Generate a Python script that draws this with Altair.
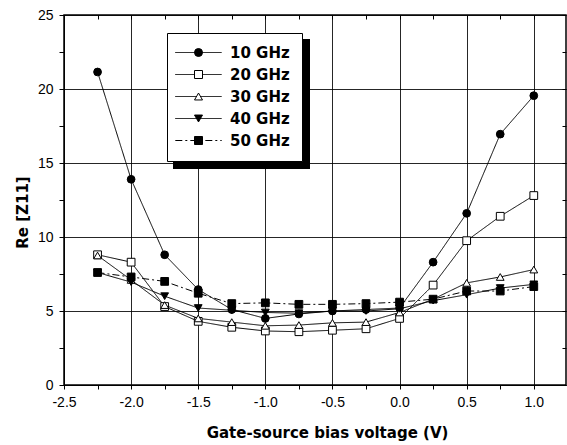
import altair as alt
import pandas as pd

voltages = [-2.25, -2.0, -1.75, -1.5, -1.25, -1.0, -0.75, -0.5, -0.25, 0.0, 0.25, 0.5, 0.75, 1.0]
series_names = ["10 GHz", "20 GHz", "30 GHz", "40 GHz", "50 GHz"]
re_10 = [21.15, 13.9, 8.8, 6.45, 5.1, 4.5, 4.8, 5.0, 5.1, 5.2, 8.3, 11.6, 16.95, 19.55]
re_20 = [8.8, 8.3, 5.3, 4.3, 3.9, 3.65, 3.6, 3.7, 3.8, 4.5, 6.75, 9.75, 11.4, 12.8]
re_30 = [8.75, 7.1, 5.4, 4.5, 4.25, 4.0, 4.05, 4.2, 4.25, 4.9, 5.8, 6.9, 7.3, 7.8]
re_40 = [7.6, 6.95, 6.0, 5.2, 5.05, 4.9, 4.85, 5.0, 5.0, 5.15, 5.7, 6.1, 6.55, 6.8]
re_50 = [7.6, 7.3, 7.0, 6.2, 5.5, 5.55, 5.45, 5.45, 5.5, 5.6, 5.8, 6.35, 6.35, 6.65]
x_ticks = [-2.5, -2.25, -2.0, -1.75, -1.5, -1.25, -1.0, -0.75, -0.5, -0.25, 0.0, 0.25, 0.5, 0.75, 1.0]
y_ticks = [0, 2.5, 5, 7.5, 10, 12.5, 15, 17.5, 20, 22.5, 25]

shapes = ["circle", "square", "triangle-up", "triangle-down", "square"]
fills = ["black", "white", "white", "black", "black"]
dashes = [[1, 0], [1, 0], [1, 0], [1, 0], [7, 3, 2, 3]]
line_keys = [n + "\u200b" for n in series_names]  # separate key so the line legend is not merged

rows = []
for name, key, vals in zip(series_names, line_keys, [re_10, re_20, re_30, re_40, re_50]):
    for v, r in zip(voltages, vals):
        rows.append({"V": v, "Re": r, "series": name, "series_line": key})
df = pd.DataFrame(rows)

FONT = "Liberation Sans"
BOLD = "DejaVu Sans"
xscale = alt.Scale(domain=[-2.5, 1.24], nice=False, zero=False)
yscale = alt.Scale(domain=[0, 25], nice=False)

major_x = "abs(datum.value % 0.5) < 0.001"
major_y = "abs(datum.value % 5) < 0.001"

x_axis = alt.Axis(
    values=x_ticks,
    labelExpr="abs(datum.value % 0.5) < 0.001 ? replace(format(datum.value, '.1f'), '\u2212', '-') : ''",
    labelFlush=False,
    grid=True,
    gridColor="black",
    gridWidth=1,
    gridOpacity={"condition": {"test": major_x, "value": 0.85}, "value": 0},
    tickSize=4,
    tickColor="black",
    domainColor="black",
    labelFont=FONT,
    labelFontSize=14,
    labelColor="black",
    labelPadding=6,
    title="Gate-source bias voltage (V)",
    titleFont=BOLD,
    titleFontSize=15,
    titleFontWeight="bold",
    titleColor="black",
    titleX=263,
    titleY=40,
    titleBaseline="top",
)
y_axis = alt.Axis(
    values=y_ticks,
    labelExpr="abs(datum.value % 5) < 0.001 ? format(datum.value, 'd') : ''",
    labelFlush=False,
    grid=True,
    gridColor="black",
    gridWidth=1,
    gridOpacity={"condition": {"test": major_y, "value": 0.85}, "value": 0},
    tickSize=5,
    tickColor="black",
    domainColor="black",
    labelFont=FONT,
    labelFontSize=14,
    labelColor="black",
    labelPadding=6,
    title="Re [Z11]",
    titleFont=BOLD,
    titleFontSize=15,
    titleFontWeight="bold",
    titleColor="black",
    titleX=-34,
    titleY=197,
)

common_legend = dict(
    title=None,
    orient="none",
    legendX=103,
    legendY=18,
    padding=12,
    rowPadding=6,
    symbolSize=64,
    symbolOffset=12,
    labelOffset=24,
    labelFont=BOLD,
    labelFontSize=15,
    labelFontWeight="bold",
    labelColor="black",
)
legend_shapes = alt.Legend(zindex=2, symbolStrokeWidth=1, **common_legend)
legend_lines = alt.Legend(
    zindex=1,
    fillColor="white",
    strokeColor="black",
    symbolType="M-5.8,0H5.8",
    symbolStrokeColor="black",
    symbolStrokeWidth=1,
    labelOpacity=0,
    **common_legend,
)

base = alt.Chart(df)

lines = base.mark_line(color="black", strokeWidth=1).encode(
    x=alt.X("V:Q", scale=xscale, axis=x_axis),
    y=alt.Y("Re:Q", scale=yscale, axis=y_axis),
    detail="series:N",
    strokeDash=alt.StrokeDash(
        "series_line:N",
        scale=alt.Scale(domain=line_keys, range=dashes),
        legend=legend_lines,
    ),
)

points = base.mark_point(size=60, strokeWidth=1, opacity=1).encode(
    x=alt.X("V:Q", scale=xscale, axis=None),
    y=alt.Y("Re:Q", scale=yscale, axis=None),
    shape=alt.Shape("series:N", scale=alt.Scale(domain=series_names, range=shapes), legend=legend_shapes),
    fill=alt.Fill("series:N", scale=alt.Scale(domain=series_names, range=fills), legend=legend_shapes),
    stroke=alt.Stroke("series:N", scale=alt.Scale(domain=series_names, range=["black"] * 5), legend=legend_shapes),
)

top_right = base.mark_point(opacity=0).encode(
    x=alt.X("V:Q", scale=xscale, axis=alt.Axis(orient="top", values=x_ticks, labels=False, domain=False,
                                                grid=False, tickSize=4, tickColor="black", offset=-4, title=None)),
    y=alt.Y("Re:Q", scale=yscale, axis=alt.Axis(orient="right", values=y_ticks, labels=False, domain=False,
                                                 grid=False, tickSize=4, tickColor="black", offset=-4, title=None)),
)

shadow = alt.Chart(pd.DataFrame({"a": [0]})).mark_rect(color="black").encode(
    x=alt.value(109), x2=alt.value(246), y=alt.value(24), y2=alt.value(154)
)

chart = alt.layer(lines, points, top_right, shadow).resolve_axis(
    x="independent", y="independent"
).properties(
    width=502,
    height=370,
    autosize=alt.AutoSizeParams(type="none"),
    padding={"left": 64, "top": 15, "right": 1, "bottom": 60},
    background="white",
).configure_view(stroke="black", strokeWidth=1.5)

chart.save("out.html", embed_options={"renderer": "svg", "actions": False})
